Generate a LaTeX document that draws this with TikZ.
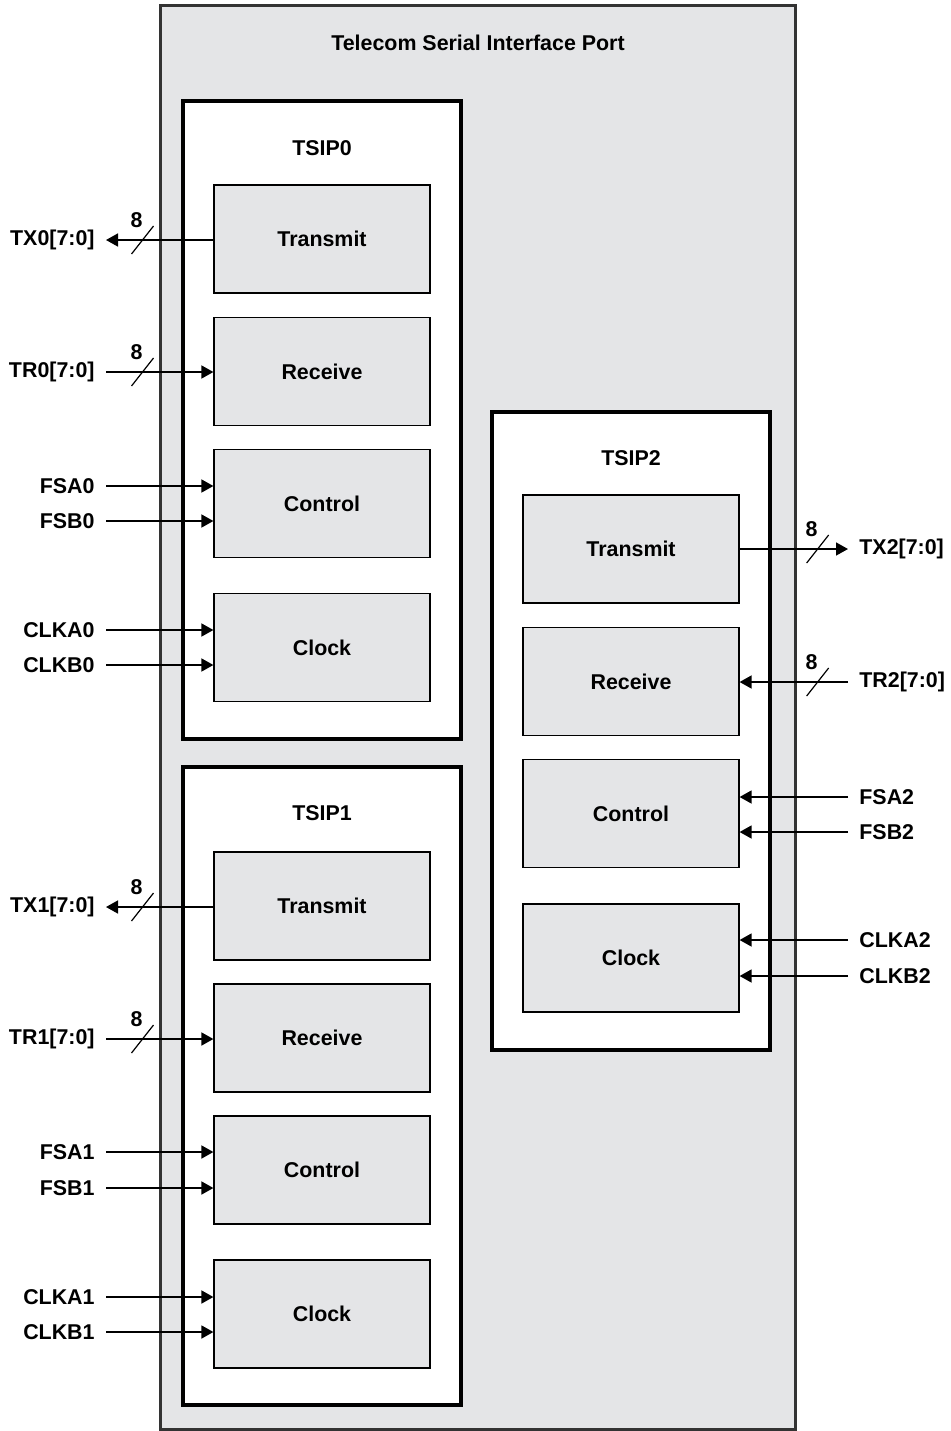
\documentclass[tikz,border=0pt]{standalone}
\usepackage{fontspec}
\setmainfont{Liberation Sans}
\usetikzlibrary{arrows.meta}
\definecolor{portgray}{HTML}{E4E5E7}
\definecolor{portedge}{HTML}{333333}
\newcommand{\busmark}[1]{%
	\draw [line width=0.6pt] ([shift={(-11,14)}]#1) -- ([shift={(11,-14)}]#1);
	\node (#1w) at ([shift={(-6,-20)}]#1) {8};}

\begin{document}
\begin{tikzpicture}[x=0.5pt,y=-0.5pt]
	\tikzstyle{every node}=[font=\fontsize{10.7}{12}\selectfont\bfseries]
	\tikzstyle{blk}=[draw=black, line width=0.6pt, fill=portgray, minimum width=108pt, minimum height=54pt, inner sep=0pt]
	\tikzstyle{tsip}=[draw=black, line width=2pt, fill=white, minimum width=139pt, minimum height=319pt, inner sep=0pt]
	\tikzstyle{pin}=[inner xsep=5.5pt, inner ysep=0pt]
	\tikzstyle{sig}=[line width=0.8pt, -{Triangle[length=6pt,width=6.5pt]}]

	\useasboundingbox (0,0) rectangle (951,1431);
	\draw [line width=1.5pt, draw=portedge, fill=portgray] (160,5) rectangle (795,1429);
	\node (port) at (478,43) {Telecom Serial Interface Port};

	% TSIP0
	\node [tsip] (tsip0) at (322,420) {};
	\node (tsip0t) at (322,148) {TSIP0};
	\node [blk] (tx0blk) at (322,239) {Transmit};
	\node [blk] (rx0blk) at (322,371.5) {Receive};
	\node [blk] (ctl0blk) at (322,503.5) {Control};
	\node [blk] (clk0blk) at (322,647.5) {Clock};
	\node [pin, anchor=east] (tx0) at (106,240) {TX0[7:0]};
	\node [pin, anchor=east] (tr0) at (106,372) {TR0[7:0]};
	\node [pin, anchor=east] (fsa0) at (106,486) {FSA0};
	\node [pin, anchor=east] (fsb0) at (106,521) {FSB0};
	\node [pin, anchor=east] (clka0) at (106,630) {CLKA0};
	\node [pin, anchor=east] (clkb0) at (106,665) {CLKB0};

	% TSIP1
	\node [tsip] (tsip1) at (322,1086) {};
	\node (tsip1t) at (322,813) {TSIP1};
	\node [blk] (tx1blk) at (322,906) {Transmit};
	\node [blk] (rx1blk) at (322,1038) {Receive};
	\node [blk] (ctl1blk) at (322,1170) {Control};
	\node [blk] (clk1blk) at (322,1314) {Clock};
	\node [pin, anchor=east] (tx1) at (106,907) {TX1[7:0]};
	\node [pin, anchor=east] (tr1) at (106,1039) {TR1[7:0]};
	\node [pin, anchor=east] (fsa1) at (106,1152) {FSA1};
	\node [pin, anchor=east] (fsb1) at (106,1188) {FSB1};
	\node [pin, anchor=east] (clka1) at (106,1297) {CLKA1};
	\node [pin, anchor=east] (clkb1) at (106,1332) {CLKB1};

	% TSIP2
	\node [tsip] (tsip2) at (630.5,730.5) {};
	\node (tsip2t) at (631,458) {TSIP2};
	\node [blk] (tx2blk) at (631,549) {Transmit};
	\node [blk] (rx2blk) at (631,681.5) {Receive};
	\node [blk] (ctl2blk) at (631,813.5) {Control};
	\node [blk] (clk2blk) at (631,958) {Clock};
	\node [pin, anchor=west] (tx2) at (848,549) {TX2[7:0]};
	\node [pin, anchor=west] (tr2) at (848,682) {TR2[7:0]};
	\node [pin, anchor=west] (fsa2) at (848,797) {FSA2};
	\node [pin, anchor=west] (fsb2) at (848,832) {FSB2};
	\node [pin, anchor=west] (clka2) at (848,940) {CLKA2};
	\node [pin, anchor=west] (clkb2) at (848,976) {CLKB2};

	% signals
	\draw [sig] (tx0.east -| tx0blk.west) -- coordinate[pos=0.66] (tx0bus) (tx0.east);
	\draw [sig] (tr0.east) -- coordinate[pos=0.34] (tr0bus) (tr0.east -| rx0blk.west);
	\draw [sig] (fsa0.east) -- (fsa0.east -| ctl0blk.west);
	\draw [sig] (fsb0.east) -- (fsb0.east -| ctl0blk.west);
	\draw [sig] (clka0.east) -- (clka0.east -| clk0blk.west);
	\draw [sig] (clkb0.east) -- (clkb0.east -| clk0blk.west);
	\busmark{tx0bus}
	\busmark{tr0bus}

	\draw [sig] (tx1.east -| tx1blk.west) -- coordinate[pos=0.66] (tx1bus) (tx1.east);
	\draw [sig] (tr1.east) -- coordinate[pos=0.34] (tr1bus) (tr1.east -| rx1blk.west);
	\draw [sig] (fsa1.east) -- (fsa1.east -| ctl1blk.west);
	\draw [sig] (fsb1.east) -- (fsb1.east -| ctl1blk.west);
	\draw [sig] (clka1.east) -- (clka1.east -| clk1blk.west);
	\draw [sig] (clkb1.east) -- (clkb1.east -| clk1blk.west);
	\busmark{tx1bus}
	\busmark{tr1bus}

	\draw [sig] (tx2.west -| tx2blk.east) -- coordinate[pos=0.72] (tx2bus) (tx2.west);
	\draw [sig] (tr2.west) -- coordinate[pos=0.28] (tr2bus) (tr2.west -| rx2blk.east);
	\draw [sig] (fsa2.west) -- (fsa2.west -| ctl2blk.east);
	\draw [sig] (fsb2.west) -- (fsb2.west -| ctl2blk.east);
	\draw [sig] (clka2.west) -- (clka2.west -| clk2blk.east);
	\draw [sig] (clkb2.west) -- (clkb2.west -| clk2blk.east);
	\busmark{tx2bus}
	\busmark{tr2bus}

\end{tikzpicture}
\end{document}
